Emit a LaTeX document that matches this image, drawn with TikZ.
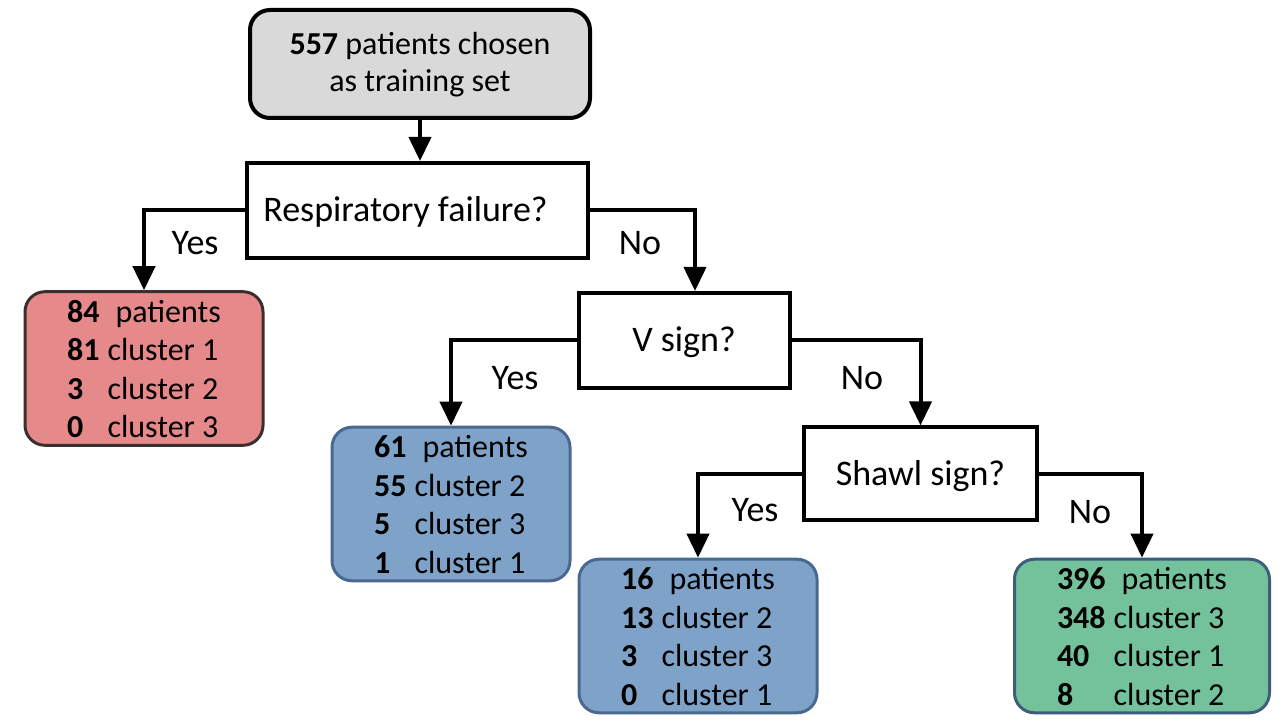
\documentclass[tikz,border=0pt]{standalone}
\usepackage{fontspec}
\setmainfont{Carlito}
\usetikzlibrary{arrows.meta}
\definecolor{greyfill}{HTML}{D9D9D9}
\definecolor{redfill}{HTML}{E6898A}
\definecolor{redline}{HTML}{3A2E2E}
\definecolor{bluefill}{HTML}{7FA2C9}
\definecolor{blueline}{HTML}{4A6890}
\definecolor{greenfill}{HTML}{74C29C}
\definecolor{greenline}{HTML}{3E5C7C}

\begin{document}
\begin{tikzpicture}[x=0.5pt, y=-0.5pt, line width=2pt, >={Triangle[length=12pt,width=11pt]},
		question/.style={rectangle,draw,fill=white,inner sep=0pt,text height=13.5pt,text depth=2pt,
			font=\fontsize{18}{21}\selectfont},
		answer/.style={inner sep=0pt,font=\fontsize{18}{21}\selectfont},
		leaf/.style={rectangle,draw=#1line,fill=#1fill,line width=1.5pt,rounded corners=10pt,
			inner sep=0pt,minimum width=119pt,minimum height=76pt,text height=15.4pt,text depth=61.4pt,
			font=\fontsize{16}{19.2}\selectfont}]
		\useasboundingbox (0, 0) rectangle (1281, 721);

		\node[rectangle,draw,fill=greyfill,rounded corners=10pt,minimum width=170pt,minimum height=54pt,align=center,
			text height=29.5pt,text depth=1.5pt,font=\fontsize{16}{18.5}\selectfont] (start) at (420, 64)
			{\textbf{557} patients chosen\\as training set};

		\node[question,minimum width=170.5pt,minimum height=47.5pt] (resp) at (417.5, 210.5)
			{\hspace{-12pt}Respiratory failure?};
		\node[question,minimum width=105.5pt,minimum height=47.5pt] (vsign) at (684, 340.5) {V sign?};
		\node[question,minimum width=116.5pt,minimum height=46.5pt] (shawl) at (920.5, 474) {Shawl sign?};

		\node[leaf=red] (red) at (144, 368.5) {\begin{tabular}[t]{@{}l@{\hspace{4pt}}l@{}}
			\textbf{84} & \hspace{4pt}patients\\ \textbf{81} & cluster 1\\ \textbf{3} & cluster 2\\ \textbf{0} & cluster 3\end{tabular}};
		\node[leaf=blue] (blueA) at (451, 504) {\begin{tabular}[t]{@{}l@{\hspace{4pt}}l@{}}
			\textbf{61} & \hspace{4pt}patients\\ \textbf{55} & cluster 2\\ \textbf{5} & cluster 3\\ \textbf{1} & cluster 1\end{tabular}};
		\node[leaf=blue] (blueB) at (698, 636) {\begin{tabular}[t]{@{}l@{\hspace{4pt}}l@{}}
			\textbf{16} & \hspace{4pt}patients\\ \textbf{13} & cluster 2\\ \textbf{3} & cluster 3\\ \textbf{0} & cluster 1\end{tabular}};
		\node[leaf=green,minimum width=127.5pt] (green) at (1142, 636) {\begin{tabular}[t]{@{}l@{\hspace{4pt}}l@{}}
			\textbf{396} & \hspace{4pt}patients\\ \textbf{348} & cluster 3\\ \textbf{40} & cluster 1\\ \textbf{8} & cluster 2\end{tabular}};

		\node[answer] (yesA) at (195, 243) {Yes};
		\node[answer] (noA) at (640, 243) {No};
		\node[answer] (yesB) at (515, 378) {Yes};
		\node[answer] (noB) at (862, 378) {No};
		\node[answer] (yesC) at (755, 510) {Yes};
		\node[answer] (noC) at (1090, 512) {No};

		\draw [->] (start.south) -- (start.south |- resp.north);
		\draw [->] (resp.west) -| (red);
		\draw [->] (resp.east) -| ([xshift=5.5pt]vsign.north);
		\draw [->] (vsign.west) -| (blueA);
		\draw [->] (vsign.east) -| (shawl);
		\draw [->] (shawl.west) -| (blueB);
		\draw [->] (shawl.east) -| (green);
\end{tikzpicture}
\end{document}
